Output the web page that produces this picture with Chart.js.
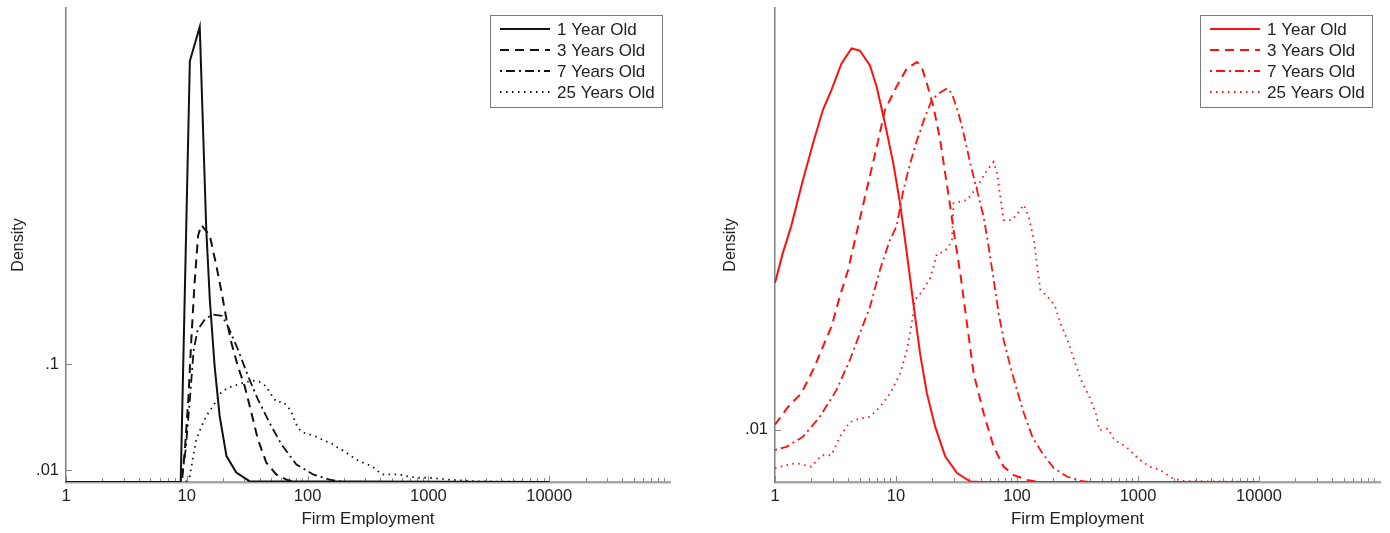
<!DOCTYPE html>
<html><head><meta charset="utf-8">
<script src="https://cdn.jsdelivr.net/npm/chart.js@4"></script>
<style>
html,body{margin:0;padding:0;background:#fff;}
#wrap{position:relative;width:1390px;height:533px;overflow:hidden;}
.box{position:absolute;top:0;width:695px;height:533px;}
#b1{left:0;} #b2{left:695px;}
</style></head><body>
<div id="wrap"><div class="box" id="b1"><canvas id="c1" width="695" height="533"></canvas></div><div class="box" id="b2"><canvas id="c2" width="695" height="533"></canvas></div></div>
<script>
// ---- labels & ticks ----
const seriesLabels = ['1 Year Old', '3 Years Old', '7 Years Old', '25 Years Old'];
const xTickValues = [1, 10, 100, 1000, 10000];
const xTickLabels = ['1', '10', '100', '1000', '10000'];
const leftYTicks = [0.01, 0.1];
const leftYTickLabels = ['.01', '.1'];
const rightYTicks = [0.01];
const rightYTickLabels = ['.01'];
const xTitle = 'Firm Employment';
const yTitle = 'Density';

// ---- left panel (black) ----
const leftAge1X = [1, 8.9, 10.6, 12.8, 14.5, 15.5, 17.0, 18.7, 21.3, 25.7, 33, 10000];
const leftAge1Y = [0, 0, 0.357, 0.386, 0.214, 0.155, 0.098, 0.056, 0.022, 0.008, 0.0007, 0];
const leftAge3X = [1, 9.1, 9.6, 10.3, 10.9, 11.6, 12.4, 13.2, 15.5, 17.6, 19.4, 21.3, 23.4, 26.5, 30.2, 34.2, 38.8, 45.5, 55, 66.7, 80, 10000];
const leftAge3Y = [0, 0, 0.025, 0.070, 0.121, 0.169, 0.209, 0.218, 0.209, 0.183, 0.161, 0.138, 0.118, 0.098, 0.081, 0.059, 0.036, 0.0165, 0.0064, 0.002, 0, 0];
const leftAge7X = [1, 9.0, 9.8, 10.6, 11.4, 12.3, 14.1, 16.4, 19.5, 21.9, 26.6, 32.1, 38.8, 48.5, 60.6, 80.5, 111, 152, 200, 10000];
const leftAge7Y = [0, 0, 0.028, 0.070, 0.112, 0.129, 0.138, 0.142, 0.141, 0.132, 0.112, 0.090, 0.070, 0.050, 0.032, 0.015, 0.0064, 0.002, 0, 0];
const leftAge25X = [1, 9.84, 10.6, 11.3, 12.0, 13.2, 14.5, 16.4, 19.3, 22.0, 29.1, 35.2, 40.1, 45.5, 48.5, 55.0, 62.5, 68.7, 73.5, 83, 91, 107, 121, 138, 157, 178, 202, 229, 260, 295, 342, 381, 418, 507, 573, 652, 793, 1015, 1490, 2500, 10000];
const leftAge25Y = [0, 0, 0.005, 0.022, 0.036, 0.047, 0.056, 0.064, 0.076, 0.080, 0.084, 0.086, 0.085, 0.081, 0.076, 0.068, 0.068, 0.064, 0.059, 0.046, 0.042, 0.040, 0.038, 0.035, 0.033, 0.029, 0.026, 0.022, 0.0185, 0.016, 0.0134, 0.0092, 0.0064, 0.0064, 0.0064, 0.005, 0.0036, 0.0036, 0.002, 0.0005, 0];

// ---- right panel (red) ----
const rightAge1X = [1, 1.16, 1.36, 1.70, 2.06, 2.49, 2.93, 3.54, 4.29, 5.02, 6.08, 6.92, 8.11, 9.5, 10.8, 12.3, 13.9, 15.8, 18.0, 21.1, 25.5, 31.9, 41.1, 50, 10000];
const rightAge1Y = [0.0379, 0.0436, 0.0487, 0.0575, 0.0645, 0.0709, 0.0747, 0.0797, 0.0826, 0.0822, 0.0794, 0.0753, 0.0683, 0.0607, 0.0531, 0.0435, 0.0341, 0.0245, 0.0169, 0.0105, 0.0049, 0.0017, 0.0001, 0, 0];
const rightAge3X = [1, 1.28, 1.65, 2.06, 2.49, 2.93, 3.43, 4.02, 4.72, 5.71, 6.92, 8.11, 10.1, 12.3, 14.9, 16.3, 18.0, 20.4, 23.2, 25.5, 28.1, 29.9, 34.0, 38.6, 43.8, 53.0, 64.2, 77.7, 94, 121, 150, 10000];
const rightAge3Y = [0.0109, 0.0143, 0.0169, 0.0213, 0.0258, 0.0296, 0.0353, 0.0404, 0.0474, 0.0556, 0.0638, 0.0709, 0.0753, 0.0788, 0.0800, 0.0791, 0.0759, 0.0715, 0.0651, 0.0588, 0.0524, 0.0480, 0.0397, 0.0302, 0.0207, 0.0131, 0.0067, 0.0029, 0.0013, 0.0004, 0, 0];
const rightAge7X = [1, 1.24, 1.70, 2.34, 3.22, 4.15, 5.02, 6.08, 7.37, 8.9, 10.1, 11.5, 13.1, 14.9, 17.4, 19.8, 22.5, 26.4, 29.0, 32.9, 36.2, 41.1, 46.7, 53.0, 58.3, 64.2, 70.6, 77.7, 88.3, 100, 114, 134, 162, 202, 261, 337, 400, 10000];
const rightAge7Y = [0.0061, 0.0067, 0.0086, 0.0124, 0.0175, 0.0232, 0.0283, 0.0333, 0.0404, 0.0461, 0.0487, 0.0556, 0.0607, 0.0651, 0.0696, 0.0728, 0.0740, 0.0750, 0.0740, 0.0702, 0.0664, 0.0607, 0.0556, 0.0505, 0.0448, 0.0385, 0.0321, 0.0270, 0.0219, 0.0175, 0.0131, 0.0086, 0.0055, 0.0026, 0.0010, 0.0002, 0, 0];
const rightAge25X = [1, 1.24, 1.50, 2.00, 2.42, 2.93, 3.43, 4.15, 5.02, 6.08, 7.37, 8.9, 10.8, 12.3, 13.5, 14.3, 16.3, 19.1, 20.4, 21.8, 24.7, 27.2, 29.0, 29.9, 38.6, 46.7, 56.5, 64.2, 68.4, 72.8, 77.7, 91, 114, 125, 138, 147, 156, 178, 206, 228, 261, 296, 337, 395, 449, 479, 563, 640, 800, 1000, 1250, 1520, 1900, 2300, 10000];
const rightAge25Y = [0.0026, 0.0032, 0.0036, 0.0029, 0.0051, 0.0051, 0.0086, 0.0114, 0.0121, 0.0124, 0.0143, 0.0168, 0.0206, 0.0251, 0.0302, 0.0347, 0.0362, 0.0388, 0.0410, 0.0435, 0.0438, 0.0448, 0.0461, 0.0531, 0.0537, 0.0562, 0.0594, 0.0610, 0.0588, 0.0543, 0.0499, 0.0499, 0.0528, 0.0505, 0.0461, 0.0410, 0.0366, 0.0354, 0.0335, 0.0303, 0.0271, 0.0233, 0.0195, 0.0163, 0.0131, 0.0099, 0.0102, 0.0080, 0.0067, 0.0045, 0.0029, 0.0023, 0.0008, 0.0002, 0];

// ---- helpers ----
const FONT = "'Liberation Sans', Arial, Helvetica, sans-serif";
const zip = (xs, ys) => xs.map((x, i) => ({x: x, y: ys[i]}));
const styles = [
  {dash: [], width: 2},
  {dash: [9, 6], width: 2},
  {dash: [2, 4, 9, 4], width: 1.8},
  {dash: [1.5, 4.5], width: 1.8}
];
function makeDatasets(pairs, color) {
  return pairs.map((p, i) => ({
    label: seriesLabels[i],
    data: zip(p[0], p[1]),
    borderColor: color,
    backgroundColor: color,
    borderWidth: styles[i].width,
    borderDash: styles[i].dash,
    pointRadius: 0,
    showLine: true,
    tension: 0,
    fill: false
  }));
}

const decor = {
  id: 'decor',
  beforeDatasetsDraw(chart) {
    const {ctx, chartArea: a, scales: {x, y}} = chart;
    ctx.save();
    ctx.strokeStyle = '#8a8a8a';
    ctx.lineWidth = 1;
    for (let k = 0; k < 5; k++) {
      for (let m = 1; m < 10; m++) {
        const v = m * Math.pow(10, k);
        const px = Math.round(x.getPixelForValue(v)) + 0.5;
        const len = m === 1 ? 6 : 4;
        ctx.beginPath(); ctx.moveTo(px, a.bottom); ctx.lineTo(px, a.bottom - len); ctx.stroke();
      }
    }
    y.ticks.forEach(t => {
      const py = Math.round(y.getPixelForValue(t.value)) + 0.5;
      ctx.beginPath(); ctx.moveTo(a.left, py); ctx.lineTo(a.left + 6, py); ctx.stroke();
    });
    ctx.restore();
  },
  afterDraw(chart) {
    const {ctx, chartArea: a} = chart;
    const w = 172, h = 92;
    const bx = a.right - 8 - w, by = a.top + 7;
    ctx.save();
    ctx.fillStyle = '#fff';
    ctx.fillRect(bx, by, w, h);
    ctx.strokeStyle = '#7a7a7a';
    ctx.lineWidth = 1;
    ctx.strokeRect(Math.round(bx) + 0.5, Math.round(by) + 0.5, w, h);
    ctx.font = '17px ' + FONT;
    ctx.textBaseline = 'middle';
    ctx.textAlign = 'left';
    chart.data.datasets.forEach((ds, i) => {
      const yy = by + 14 + i * 21;
      ctx.strokeStyle = ds.borderColor;
      ctx.lineWidth = ds.borderWidth;
      ctx.setLineDash(ds.borderDash);
      ctx.beginPath(); ctx.moveTo(bx + 10, yy); ctx.lineTo(bx + 60, yy); ctx.stroke();
      ctx.setLineDash([]);
      ctx.fillStyle = '#222';
      ctx.fillText(ds.label, bx + 67, yy + 1);
    });
    ctx.restore();
  }
};

function makeChart(id, datasets, yMax, yTicks, yTickLabels, yWidth, padRight, yTitlePad) {
  return new Chart(document.getElementById(id), {
    type: 'scatter',
    data: {datasets: datasets},
    plugins: [decor],
    options: {
      responsive: false,
      animation: false,
      devicePixelRatio: 1,
      layout: {padding: {top: 8, right: padRight, left: 0, bottom: 0}},
      plugins: {legend: {display: false}, tooltip: {enabled: false}},
      scales: {
        x: {
          type: 'logarithmic', min: 1, max: 100000,
          afterBuildTicks: s => { s.ticks = xTickValues.map(v => ({value: v})); },
          afterFit: s => { s.height = 51; s.paddingLeft = 0; s.paddingRight = 0; },
          ticks: {
            autoSkip: false, maxRotation: 0, padding: 5, color: '#222',
            font: {family: FONT, size: 16.5},
            callback: v => xTickLabels[xTickValues.indexOf(v)] ?? ''
          },
          grid: {display: false, drawTicks: false},
          border: {display: true, color: '#a8a8a8', width: 2.5},
          title: {display: true, text: xTitle, color: '#222', font: {family: FONT, size: 17}, padding: {top: 0, bottom: 3}}
        },
        y: {
          type: 'linear', min: 0, max: yMax,
          afterBuildTicks: s => { s.ticks = yTicks.map(v => ({value: v})); },
          afterFit: s => { s.width = yWidth; s.paddingTop = 0; s.paddingBottom = 0; },
          ticks: {
            autoSkip: false, padding: 7, color: '#222',
            font: {family: FONT, size: 16.5},
            callback: v => yTickLabels[yTicks.indexOf(v)] ?? ''
          },
          grid: {display: false, drawTicks: false},
          border: {display: true, color: '#808080', width: 1.5},
          title: {display: true, text: yTitle, color: '#222', font: {family: FONT, size: 16}, padding: {top: yTitlePad, bottom: 0}}
        }
      }
    }
  });
}

makeChart('c1', makeDatasets([[leftAge1X, leftAge1Y], [leftAge3X, leftAge3Y], [leftAge7X, leftAge7Y], [leftAge25X, leftAge25Y]], '#111'),
  0.402, leftYTicks, leftYTickLabels, 66, 25, 9.4);
makeChart('c2', makeDatasets([[rightAge1X, rightAge1Y], [rightAge3X, rightAge3Y], [rightAge7X, rightAge7Y], [rightAge25X, rightAge25Y]], '#ff1010'),
  0.0903, rightYTicks, rightYTickLabels, 80, 10, 26);
</script>
</body></html>
